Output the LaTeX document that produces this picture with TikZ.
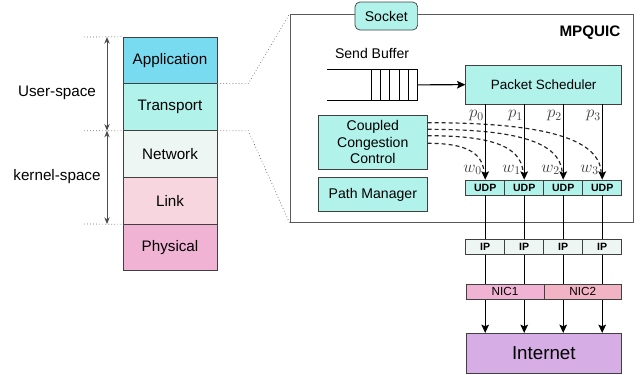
\documentclass[tikz,border=0pt]{standalone}
\usepackage{fontspec}
\setmainfont{Liberation Sans}
\usetikzlibrary{arrows.meta}
\definecolor{appc}{HTML}{79DBEF}
\definecolor{trac}{HTML}{B1F3EB}
\definecolor{netc}{HTML}{EEF6F4}
\definecolor{linkc}{HTML}{F7D6DF}
\definecolor{physc}{HTML}{F0B3D3}
\definecolor{nicb}{HTML}{F2B3C4}
\definecolor{inetc}{HTML}{D6ADE5}
\begin{document}
\begin{tikzpicture}[x=0.3mm,y=-0.3mm,
    layer/.style={draw=black!75,line width=0.6pt,minimum width=28.2mm,minimum height=14mm,inner sep=0pt,font=\fontsize{13}{15}\selectfont},
    box/.style={draw=black!75,fill=trac,line width=0.6pt,inner sep=0pt,font=\fontsize{12}{14}\selectfont},
    cell/.style={draw=black!75,line width=0.6pt,minimum width=11.7mm,minimum height=4.5mm,inner sep=0pt,font=\bfseries\fontsize{9}{10}\selectfont},
    lab/.style={inner sep=0.8pt,text=black!75,font=\fontsize{14.5}{16}\selectfont},
    arr/.style={line width=0.9pt,-{Stealth[length=2.5mm,width=2.3mm,inset=0.5mm]}},
    link/.style={line width=0.9pt},
    guide/.style={draw=black!60,dotted,line width=0.6pt},
    span/.style={draw=black!70,line width=0.8pt,{Stealth[length=2mm,width=1.6mm]}-{Stealth[length=2mm,width=1.6mm]}},
    weight/.style={draw=black!85,dash pattern=on 1.2mm off 0.9mm,line width=1pt}]
    \useasboundingbox (0,0) rectangle (644,374);

    \node [layer,fill=appc](appl)at(170,60.4){Application};
    \node [layer,fill=trac](trans)at(170,107.1){Transport};
    \node [layer,fill=netc](netw)at(170,153.8){Network};
    \node [layer,fill=linkc](link)at(170,200.6){Link};
    \node [layer,fill=physc](phys)at(170,247.3){Physical};

    \coordinate (d0)at(84,37);
    \coordinate (d1)at(84,130.7);
    \coordinate (d2)at(84,224);
    \coordinate (s0)at(107,37);
    \coordinate (s1)at(107,130.7);
    \coordinate (s2)at(107,224);
    \draw [guide](d0)--(appl.north west);
    \draw [guide](d1)--(trans.south west);
    \draw [guide](d2)--(link.south west);
    \draw [span](s0)--(s1);
    \draw [span](s1)--(s2);
    \node [font=\fontsize{13}{15}\selectfont](user)at(57,92.7){User-space};
    \node [font=\fontsize{13}{15}\selectfont](kern)at(57,177){kernel-space};

    \node [draw=black!65,line width=0.6pt,minimum width=102.9mm,minimum height=62.6mm,inner sep=0pt](mpq)at(461.5,118.5){};
    \draw [guide](trans.north east)--++(31,0)--(mpq.north west);
    \draw [guide](trans.south east)--++(31,0)--(mpq.south west);
    \node [box,rounded corners=1.5mm,minimum width=18.8mm,minimum height=8.4mm](sock)at(386.3,16){Socket};
    \node [font=\bfseries\fontsize{13}{15}\selectfont](mpqlabel)at(590,33){MPQUIC};

    \node [font=\fontsize{12}{14}\selectfont](buflabel)at(372,53){Send Buffer};
    \draw [line width=0.8pt](327.3,69)--(417.7,69)--(417.7,100.7)--(327.3,100.7);
    \draw [line width=0.6pt](371,69)--(371,100.7);
    \draw [line width=0.6pt](380.3,69)--(380.3,100.7);
    \draw [line width=0.6pt](389.3,69)--(389.3,100.7);
    \draw [line width=0.6pt](399,69)--(399,100.7);
    \draw [line width=0.6pt](408.3,69)--(408.3,100.7);
    \coordinate (buf)at(417.7,84.8);

    \node [box,minimum width=46.8mm,minimum height=11.7mm,font=\fontsize{11.5}{13}\selectfont](sched)at(543.7,84.5){Packet Scheduler};
    \node [box,align=center,minimum width=32.7mm,minimum height=16.2mm](ccc)at(372.8,142.3){Coupled\\Congestion\\Control};
    \node [box,minimum width=32.7mm,minimum height=10.3mm](pm)at(372.8,194.5){Path Manager};
    \draw [arr](buf)--(sched);

    \node [cell,fill=trac](u0)at(485.2,187.5){UDP};
    \node [cell,fill=trac](u1)at(524.2,187.5){UDP};
    \node [cell,fill=trac](u2)at(563.2,187.5){UDP};
    \node [cell,fill=trac](u3)at(602.2,187.5){UDP};

    \draw [weight]([yshift=-0.3mm]ccc.east)..controls +(35,0) and +(-2,-22)..([xshift=-0.3mm,yshift=2.1mm]u0.north);
    \draw [weight]([yshift=1.98mm]ccc.east)..controls +(60,0) and +(-2,-28)..([xshift=-0.3mm,yshift=2.1mm]u1.north);
    \draw [weight]([yshift=3.9mm]ccc.east)..controls +(85,0) and +(-2,-32)..([xshift=-0.3mm,yshift=2.1mm]u2.north);
    \draw [weight]([yshift=5.88mm]ccc.east)..controls +(110,0) and +(-2,-36)..([xshift=-0.3mm,yshift=2.1mm]u3.north);

    \draw [arr](sched.south -| u0)--node[pos=0.15,left,lab]{$p_0$}node[pos=0.87,left,lab,xshift=-0.6mm]{$w_0$}(u0);
    \draw [arr](sched.south -| u1)--node[pos=0.15,left,lab]{$p_1$}node[pos=0.87,left,lab,xshift=-0.6mm]{$w_1$}(u1);
    \draw [arr](sched.south -| u2)--node[pos=0.15,left,lab]{$p_2$}node[pos=0.87,left,lab,xshift=-0.6mm]{$w_2$}(u2);
    \draw [arr](sched.south -| u3)--node[pos=0.15,left,lab]{$p_3$}node[pos=0.87,left,lab,xshift=-0.6mm]{$w_3$}(u3);

    \node [cell,fill=netc,minimum height=4.6mm](i0)at(485.2,246.7){IP};
    \node [cell,fill=netc,minimum height=4.6mm](i1)at(524.2,246.7){IP};
    \node [cell,fill=netc,minimum height=4.6mm](i2)at(563.2,246.7){IP};
    \node [cell,fill=netc,minimum height=4.6mm](i3)at(602.2,246.7){IP};
    \node [cell,fill=physc,minimum width=23.4mm,font=\fontsize{10}{12}\selectfont](nic1)at(505,291.8){NIC1};
    \node [cell,fill=nicb,minimum width=23.3mm,font=\fontsize{10}{12}\selectfont](nic2)at(582.8,291.8){NIC2};
    \node [draw=black!75,line width=0.6pt,fill=inetc,minimum width=46.7mm,minimum height=12mm,font=\fontsize{16}{19}\selectfont](inet)at(543.8,353.3){Internet};

    \draw [link](u0)--(i0);
    \draw [link](u1)--(i1);
    \draw [link](u2)--(i2);
    \draw [link](u3)--(i3);
    \draw [link](i0)--(i0 |- nic1.north);
    \draw [link](i1)--(i1 |- nic1.north);
    \draw [link](i2)--(i2 |- nic2.north);
    \draw [link](i3)--(i3 |- nic2.north);
    \draw [arr](i0 |- nic1.south)--(i0 |- inet.north);
    \draw [arr](i1 |- nic1.south)--(i1 |- inet.north);
    \draw [arr](i2 |- nic2.south)--(i2 |- inet.north);
    \draw [arr](i3 |- nic2.south)--(i3 |- inet.north);
\end{tikzpicture}
\end{document}
